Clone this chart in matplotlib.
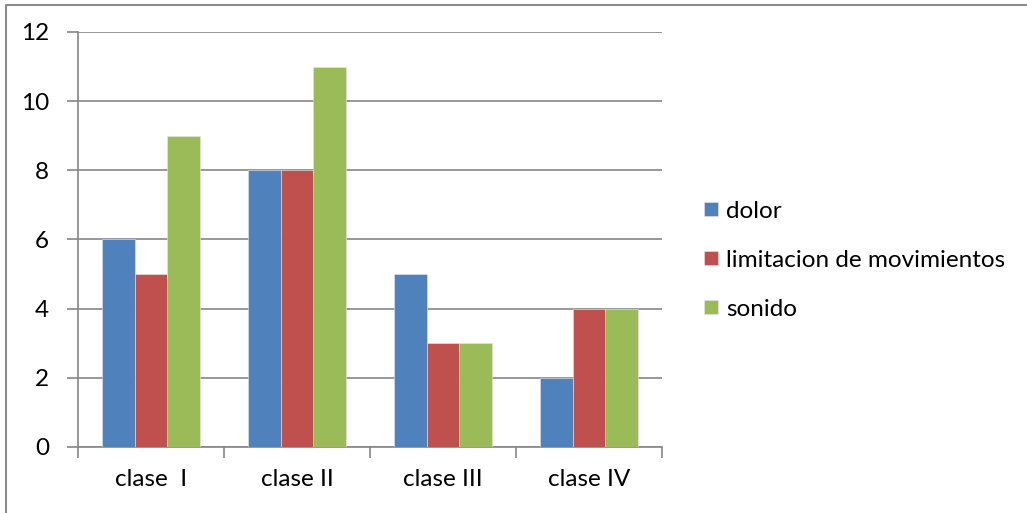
import numpy as np
import matplotlib.pyplot as plt
from matplotlib.lines import Line2D

categories = ['clase  I', 'clase II', 'clase III', 'clase IV']
series_names = ['dolor', 'limitacion de movimientos', 'sonido']
dolor = [6, 8, 5, 2]
limitacion = [5, 8, 3, 4]
sonido = [9, 11, 3, 4]
colors = ['#4F81BD', '#C0504D', '#9BBB59']

plt.rcParams['font.family'] = ['Lato', 'DejaVu Sans']

fig = plt.figure(figsize=(10.27, 5.13), dpi=100)
ax = fig.add_axes([0.076, 0.1287, 0.5686, 0.809])

# outer chart border (only top and left edges are visible in the crop)
fig.lines.append(Line2D([0.006, 0.006, 1.0], [0.0, 0.99, 0.99], transform=fig.transFigure,
                        color='#8c8c8c', linewidth=1.5))

x = np.arange(len(categories))
w = 1 / 4.5
for i, (vals, name) in enumerate(zip([dolor, limitacion, sonido], series_names)):
    ax.bar(x + (i - 1) * w, vals, w, color=colors[i], label=name,
           edgecolor='#e8e8e8', linewidth=0.4, zorder=3)

ax.set_xlim(-0.5, len(categories) - 0.5)
ax.set_ylim(0, 12)
ax.set_yticks(range(0, 13, 2))
ax.yaxis.grid(True, color='#868686', linewidth=1.2, zorder=0)

for s in ['top', 'right']:
    ax.spines[s].set_visible(False)
for s in ['left', 'bottom']:
    ax.spines[s].set_color('#868686')
    ax.spines[s].set_linewidth(1.2)

ax.set_xticks(x)
ax.set_xticklabels(categories)
ax.set_xticks(np.arange(-0.5, len(categories), 1), minor=True)
ax.tick_params(axis='x', which='major', length=0, pad=16, labelsize=17.5)
ax.tick_params(axis='x', which='minor', length=8, color='#868686', width=1.2)
ax.tick_params(axis='y', length=8, color='#868686', width=1.2, pad=13, labelsize=17.5)

ax.legend(loc='center left', bbox_to_anchor=(1.035, 0.45), frameon=False, fontsize=17.5,
          handlelength=0.55, handleheight=0.55, handletextpad=0.35, labelspacing=1.15)

fig.savefig('out.png', dpi=100)
